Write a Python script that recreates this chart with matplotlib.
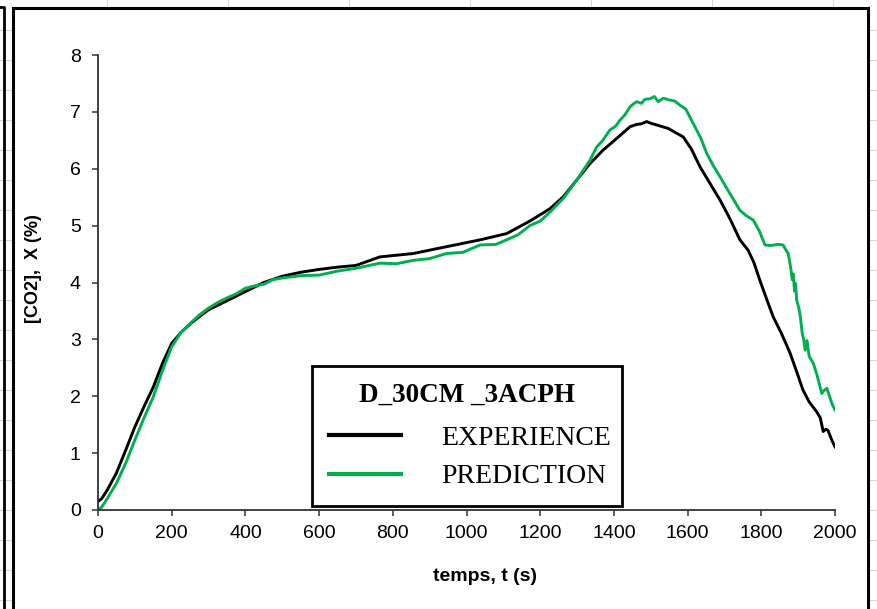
import matplotlib
matplotlib.use("Agg")
import matplotlib.pyplot as plt
from matplotlib.patches import Rectangle
from matplotlib.lines import Line2D

# experience curve (black)
t_exp = [0, 10, 25, 50, 75, 100, 125, 150, 175, 200,
         225, 250, 275, 300, 350, 400, 450, 500, 550, 600,
         650, 700, 765, 856, 946, 1037, 1109, 1172, 1227, 1263,
         1299, 1335, 1371, 1407, 1444, 1462, 1475, 1489, 1500, 1516,
         1547, 1588, 1610, 1634, 1660, 1688, 1715, 1742, 1764, 1780,
         1796, 1815, 1832, 1855, 1878, 1895, 1913, 1930, 1950, 1960,
         1968, 1975, 1981, 1990, 2000]
co2_exp = [0.15, 0.2, 0.35, 0.65, 1.05, 1.46, 1.82, 2.16, 2.58, 2.93,
           3.12, 3.27, 3.40, 3.52, 3.68, 3.84, 4.00, 4.11, 4.18, 4.23,
           4.27, 4.30, 4.45, 4.51, 4.63, 4.75, 4.86, 5.08, 5.30, 5.51,
           5.80, 6.09, 6.33, 6.53, 6.74, 6.78, 6.79, 6.83, 6.80, 6.77,
           6.71, 6.56, 6.35, 6.03, 5.75, 5.45, 5.12, 4.75, 4.57, 4.35,
           4.04, 3.70, 3.40, 3.10, 2.76, 2.45, 2.11, 1.90, 1.73, 1.62,
           1.38, 1.42, 1.40, 1.25, 1.11]

# prediction curve (green)
t_pred = [0, 10, 25, 50, 75, 100, 125, 150, 175, 200,
          225, 250, 275, 300, 325, 350, 375, 400, 425, 450,
          475, 500, 550, 600, 650, 700, 765, 810, 856, 900,
          946, 990, 1037, 1080, 1109, 1140, 1172, 1200, 1227, 1263,
          1299, 1335, 1353, 1370, 1389, 1405, 1416, 1430, 1444, 1453,
          1462, 1475, 1484, 1498, 1510, 1520, 1534, 1550, 1565, 1579,
          1595, 1615, 1635, 1652, 1670, 1688, 1715, 1742, 1760, 1778,
          1795, 1810, 1825, 1845, 1859, 1866, 1873, 1880, 1884, 1887,
          1890, 1893, 1896, 1902, 1906, 1911, 1915, 1919, 1924, 1930,
          1941, 1950, 1958, 1964, 1970, 1978, 1985, 1993, 2000]
co2_pred = [0.0, 0.05, 0.2, 0.47, 0.82, 1.23, 1.62, 1.99, 2.45, 2.87,
            3.12, 3.28, 3.43, 3.55, 3.65, 3.73, 3.80, 3.90, 3.94, 3.97,
            4.05, 4.08, 4.12, 4.13, 4.20, 4.25, 4.34, 4.33, 4.39, 4.42,
            4.51, 4.53, 4.66, 4.67, 4.75, 4.84, 5.00, 5.08, 5.24, 5.48,
            5.80, 6.15, 6.38, 6.50, 6.68, 6.75, 6.85, 6.95, 7.09, 7.14,
            7.18, 7.15, 7.22, 7.23, 7.27, 7.18, 7.24, 7.21, 7.19, 7.12,
            7.05, 6.80, 6.55, 6.27, 6.05, 5.86, 5.56, 5.27, 5.17, 5.10,
            4.90, 4.66, 4.65, 4.67, 4.66, 4.58, 4.51, 4.25, 4.05, 4.15,
            3.85, 3.98, 3.69, 3.55, 3.40, 3.11, 3.00, 2.81, 2.98, 2.70,
            2.58, 2.40, 2.20, 2.05, 2.10, 2.14, 2.00, 1.85, 1.76]

x_ticks = [0, 200, 400, 600, 800, 1000, 1200, 1400, 1600, 1800, 2000]
y_ticks = [0, 1, 2, 3, 4, 5, 6, 7, 8]
legend_title = "D_30CM _3ACPH"
labels = ["EXPERIENCE", "PREDICTION"]

W, H = 877, 609
fig = plt.figure(figsize=(W / 100, H / 100), dpi=100)
fig.patch.set_facecolor("white")

# spreadsheet cells behind the chart
grid_c = "#d6d6d6"
for gx in [107, 228, 349, 470, 591, 712, 833]:
    fig.add_artist(Line2D([gx / W, gx / W], [0, 1], color=grid_c, lw=0.8, zorder=-3))
for gy in range(30, H, 30):
    fig.add_artist(Line2D([0, 1], [1 - gy / H, 1 - gy / H], color=grid_c, lw=0.8, zorder=-3))

# neighbour chart border at far left
fig.add_artist(Line2D([0, 4 / W, 4 / W], [1 - 7 / H, 1 - 7 / H, 0], color="black", lw=2, zorder=-2))

# chart area
fig.add_artist(Rectangle((13 / W, -0.05), 855 / W, 1.05 - 8 / H, transform=fig.transFigure,
                         facecolor="white", edgecolor="black", lw=2.2, zorder=-1))

ax = fig.add_axes([98 / W, 1 - 510 / H, 737 / W, 455 / H])
ax.set_facecolor("none")

ax.plot(t_exp, co2_exp, color="black", lw=2.1, label=labels[0])
ax.plot(t_pred, co2_pred, color="#00b050", lw=2.1, label=labels[1])

ax.set_xlim(0, 2000)
ax.set_ylim(0, 8)
ax.set_xticks(x_ticks)
ax.set_yticks(y_ticks)
for s in ["top", "right"]:
    ax.spines[s].set_visible(False)
for s in ["left", "bottom"]:
    ax.spines[s].set_color("#333333")
    ax.spines[s].set_linewidth(1.3)
ax.tick_params(direction="out", length=4.5, width=1.1, color="#333333")
ax.tick_params(axis="y", pad=8)
ax.tick_params(axis="x", pad=6)
for lab in ax.get_xticklabels() + ax.get_yticklabels():
    lab.set_fontfamily("Liberation Sans")
    lab.set_fontsize(14)

ax.set_xlabel("temps, t (s)", fontfamily="Liberation Sans", fontweight="bold", fontsize=14)
ax.set_ylabel("[CO2],  X (%)", fontfamily="Liberation Sans", fontweight="bold", fontsize=13)
ax.xaxis.set_label_coords(0.525, -0.128)
ax.yaxis.set_label_coords(-0.076, 0.53)

leg = fig.legend(loc="upper left", bbox_to_anchor=(312 / W, 1 - 502 / H, 310 / W, 136 / H),
                 mode="expand", borderaxespad=0, title=legend_title,
                 prop={"family": "Liberation Serif", "size": 20},
                 title_fontproperties={"family": "Liberation Serif", "size": 19.5, "weight": "bold"},
                 handlelength=2.6, handletextpad=1.44, labelspacing=0.46, borderpad=0.6,
                 fancybox=False, framealpha=1, edgecolor="black")
leg.get_frame().set_linewidth(2)
leg._legend_box.sep = 13  # wider gap under the title, as in the original
for h in leg.get_lines():
    h.set_linewidth(3)

fig.savefig("out.png", dpi=100, facecolor="white")
